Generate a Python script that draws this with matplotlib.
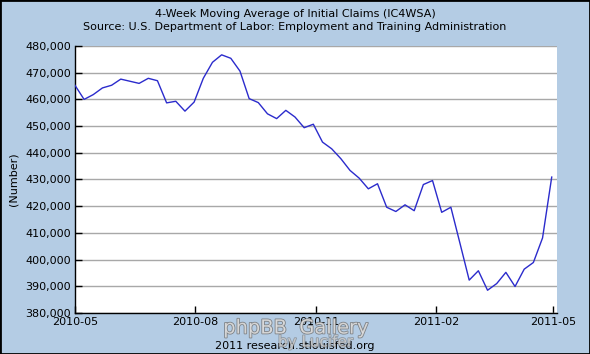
import numpy as np
import pandas as pd
import matplotlib
matplotlib.use("Agg")
from matplotlib import pyplot as plt
import matplotlib.dates as mdates
from matplotlib.ticker import FuncFormatter
from matplotlib.patches import Rectangle
import matplotlib.patheffects as pe

BG = '#B4CCE4'
LINE = '#2B2BCC'

# weekly dates (saturdays), 4-week moving average of initial claims
dates = pd.date_range('2010-05-01', periods=53, freq='7D')
claims = [
    465300, 460000, 461800, 464300, 465300, 467600, 466800, 466000, 467900, 467000,
    458700, 459300, 455600, 459000, 467900, 473900, 476700, 475400, 470600, 460300,
    458800, 454600, 452800, 455900, 453400, 449400, 450700, 444000, 441500, 437800,
    433400, 430500, 426500, 428400, 419600, 418000, 420500, 418300, 428100, 429600,
    417700, 419600, 406000, 392300, 395800, 388500, 391000, 395200, 389900, 396400,
    398900, 408100, 430900,
]
xticks = ['2010-05-01', '2010-08-01', '2010-11-01', '2011-02-01', '2011-05-01']
yticks = list(range(380000, 480001, 10000))

fig = plt.figure(figsize=(5.9, 3.54), dpi=100, facecolor=BG)
ax = fig.add_axes([0.127, 0.116, 0.817, 0.754])
ax.set_facecolor('white')

ax.plot(dates, claims, color=LINE, linewidth=1.0, zorder=3)

ax.set_xlim(pd.Timestamp('2010-05-01'), pd.Timestamp('2011-05-04'))
ax.set_ylim(380000, 480000)
ax.set_xticks([pd.Timestamp(t) for t in xticks])
ax.xaxis.set_major_formatter(mdates.DateFormatter('%Y-%m'))
ax.set_yticks(yticks)
ax.yaxis.set_major_formatter(FuncFormatter(lambda v, p: f"{int(v):,}"))

ax.grid(axis='y', color='#A8A8A8', linewidth=1.0, zorder=1)
for s in ['top', 'right']:
    ax.spines[s].set_visible(False)
for s in ['left', 'bottom']:
    ax.spines[s].set_color('black')
    ax.spines[s].set_linewidth(1.0)
ax.tick_params(direction='in', length=5, width=1, labelsize=8, colors='black', pad=3)

ax.set_ylabel('(Number)', fontsize=8, labelpad=5)

fig.text(0.5, 1 - 14 / 354, '4-Week Moving Average of Initial Claims (IC4WSA)',
         ha='center', va='center', fontsize=8)
fig.text(0.5, 1 - 27 / 354, 'Source: U.S. Department of Labor: Employment and Training Administration',
         ha='center', va='center', fontsize=8)
fig.text(0.5, 1 - 346 / 354, '2011 research.stlouisfed.org',
         ha='center', va='center', fontsize=8)

# forum watermark
wm = [pe.withStroke(linewidth=1.2, foreground='#707070')]
fig.text(0.502, 1 - 328 / 354, 'phpBB  Gallery', ha='center', va='center',
         fontsize=14, color='#E8E8E8', alpha=0.8, path_effects=wm, zorder=5)
fig.text(0.535, 1 - 342 / 354, 'by Lucifer', ha='center', va='center',
         fontsize=11, color='#E8E8E8', alpha=0.55, path_effects=wm, zorder=5)

fig.patches.append(Rectangle((0, 0), 1, 1, transform=fig.transFigure,
                             fill=False, edgecolor='black', linewidth=2))

fig.savefig('out.png', dpi=100, facecolor=BG)
